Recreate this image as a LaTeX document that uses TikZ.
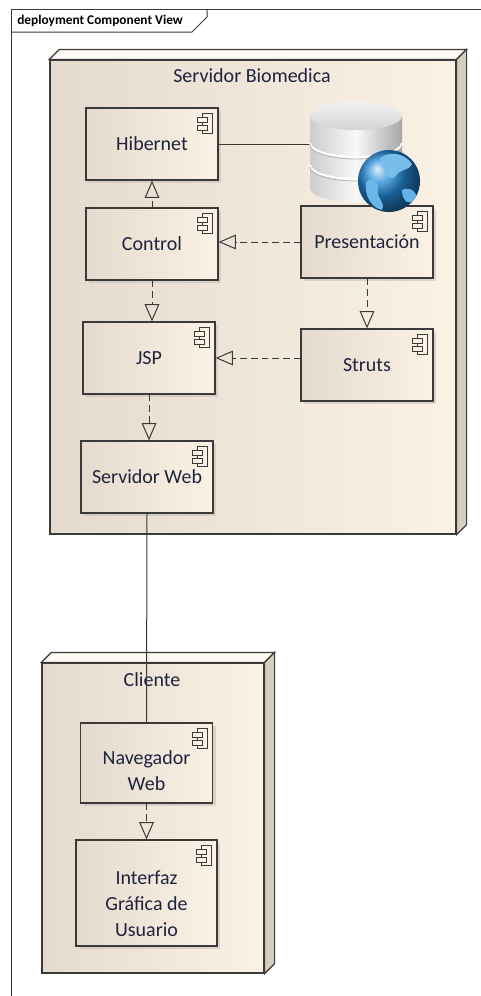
\documentclass[tikz,border=0pt]{standalone}
\usepackage{fontspec}
\setmainfont{Carlito}
\usepackage{tikz}
\usetikzlibrary{arrows.meta,shadows,backgrounds}

\definecolor{inkblue}{RGB}{30,36,62}
\definecolor{edge}{RGB}{58,58,58}
\definecolor{beigeL}{RGB}{228,219,206}
\definecolor{beigeR}{RGB}{251,241,228}
\definecolor{beigeL2}{RGB}{227,218,205}
\definecolor{beigeR2}{RGB}{250,240,227}
\definecolor{sideface}{RGB}{215,205,191}
\definecolor{topface}{RGB}{253,249,243}
\definecolor{shadowgray}{RGB}{200,198,196}
\definecolor{boxshadow}{RGB}{192,187,180}
\definecolor{globeblue}{RGB}{36,138,214}
\definecolor{landblue}{RGB}{120,190,235}

\tikzset{
  comp/.style={draw=edge, line width=0.9pt, left color=beigeL, right color=beigeR,
    minimum width=99pt, minimum height=54pt, inner sep=0pt,
    text=inkblue, font=\fontsize{15}{19.5}\selectfont, align=center,
    drop shadow={shadow xshift=2.5pt, shadow yshift=-2.5pt, fill=boxshadow}},
  devbox/.style={draw=edge, line width=0.9pt, left color=beigeL, right color=beigeR, inner sep=0pt},
  devname/.style={text=inkblue, font=\fontsize{15}{18}\selectfont, inner sep=0pt},
  dep/.style={draw=edge, line width=0.75pt, dash pattern=on 5pt off 3pt,
    -{Triangle[open, length=13pt, width=11pt, line width=0.75pt]}},
  link/.style={draw=edge, line width=0.75pt},
}

\newcommand{\compicon}[1]{%
  \draw[shift={(#1.north east)}, draw=edge, line width=0.75pt, fill=beigeR] (-16,6) rectangle (-6,26);
  \draw[shift={(#1.north east)}, draw=edge, line width=0.75pt, fill=beigeR] (-21,10) rectangle (-11,15) (-21,18) rectangle (-11,23);
}
\newcommand{\nodefaces}[1]{%
  \begin{scope}[on background layer, shift={(4,4)}]
    \fill[shadowgray] (#1.south west) -- (#1.north west) -- ([shift={(10,-10)}]#1.north west)
      -- ([shift={(10,-10)}]#1.north east) -- ([shift={(10,-10)}]#1.south east) -- (#1.south east) -- cycle;
  \end{scope}
  \draw[draw=edge, line width=0.9pt, fill=topface] (#1.north west) -- ([shift={(10,-10)}]#1.north west)
    -- ([shift={(10,-10)}]#1.north east) -- (#1.north east) -- cycle;
  \draw[draw=edge, line width=0.9pt, fill=sideface] (#1.north east) -- ([shift={(10,-10)}]#1.north east)
    -- ([shift={(10,-10)}]#1.south east) -- (#1.south east) -- cycle;
}

\begin{document}
\begin{tikzpicture}[x=0.75pt,y=0.75pt,yscale=-1,xscale=1]
    \useasboundingbox (0,0) rectangle (481,996);

    \draw[edge, line width=0.75pt] (11,996) -- (11,9) -- (481,9);
    \draw[edge, line width=0.75pt] (11,32) -- (192,32) -- (207,17) -- (207,9);
    \node[anchor=west, inner sep=0pt, font=\bfseries\fontsize{10}{12}\selectfont] (viewname) at (17,21) {deployment Component View};

    \node[devbox, minimum width=304.5pt, minimum height=355.5pt] (srv) at (253,297) {};
    \nodefaces{srv}
    \node[devname] (srvname) at (252,76) {Servidor Biomedica};

    \node[devbox, minimum width=166.5pt, minimum height=232.5pt] (cli) at (153,818) {};
    \nodefaces{cli}
    \node[devname] (cliname) at (152,680) {Cliente};

    \node[comp] (hib) at (152,144) {Hibernet};
    \node[comp] (ctl) at (152,244) {Control};
    \node[comp] (pres) at (367,242) {Presentación};
    \node[comp] (jsp) at (149,358) {JSP};
    \node[comp] (struts) at (367,365) {Struts};
    \node[comp] (web) at (147,477) {Servidor Web};
    \node[comp, minimum height=60pt, left color=beigeL2, right color=beigeR2] (nav) at (146.5,763) {\raisebox{-7pt}[\height][\depth]{\begin{tabular}{@{}c@{}}Navegador\\Web\end{tabular}}};
    \node[comp, minimum width=105.75pt, minimum height=79.5pt] (gui) at (146.5,893) {\raisebox{-9pt}[\height][\depth]{\begin{tabular}{@{}c@{}}Interfaz\\Gráfica de\\Usuario\end{tabular}}};
    \foreach \c in {hib,ctl,pres,jsp,struts,web,nav,gui} {\compicon{\c}}

    \node[minimum width=69pt, minimum height=75pt, inner sep=0pt] (db) at (356,152) {};

    \draw[link] (hib.east) -- (hib.east -| db.west);
    \draw[dep] (ctl.north) -- (hib.south);
    \draw[dep] (pres.west) -- (pres.west -| ctl.east);
    \draw[dep] (ctl.south) -- (ctl.south |- jsp.north);
    \draw[dep] (pres.south) -- (struts.north);
    \draw[dep] (struts.west |- jsp.east) -- (jsp.east);
    \draw[dep] (jsp.south) -- (jsp.south |- web.north);
    \draw[link] (web.south) -- (nav.north);
    \draw[dep] (nav.south) -- (gui.north);

    \begin{scope}[shift={(db.center)}]
        \shade[left color=gray!40, right color=gray!70, middle color=gray!5] (-46,-36) -- (-46,36)
          arc[start angle=180, end angle=0, x radius=46, y radius=14] -- (46,-36) -- cycle;
        \draw[white, line width=1.5pt] (-46,-9) arc[start angle=180, end angle=0, x radius=46, y radius=14];
        \draw[gray!60, line width=0.6pt] (-46,-7) arc[start angle=180, end angle=0, x radius=46, y radius=14];
        \draw[white, line width=1.5pt] (-46,13) arc[start angle=180, end angle=0, x radius=46, y radius=14];
        \draw[gray!60, line width=0.6pt] (-46,15) arc[start angle=180, end angle=0, x radius=46, y radius=14];
        \shade[top color=gray!10, bottom color=gray!35] (0,-36) ellipse [x radius=46, y radius=14];
        \shade[ball color=globeblue] (33,29) circle [radius=31];
        \begin{scope}
            \clip (33,29) circle [radius=31];
            \fill[landblue] (24,6) .. controls (34,-2) and (50,2) .. (56,12)
              .. controls (52,20) and (44,16) .. (40,24) .. controls (34,30) and (26,20) .. (24,6) -- cycle;
            \fill[landblue!85!globeblue] (10,30) .. controls (16,24) and (24,30) .. (22,38)
              .. controls (20,46) and (30,50) .. (26,58) .. controls (16,56) and (8,44) .. (10,30) -- cycle;
            \fill[landblue!75!globeblue] (46,38) .. controls (54,34) and (62,40) .. (60,48)
              .. controls (54,54) and (46,50) .. (46,38) -- cycle;
        \end{scope}
    \end{scope}
\end{tikzpicture}
\end{document}
